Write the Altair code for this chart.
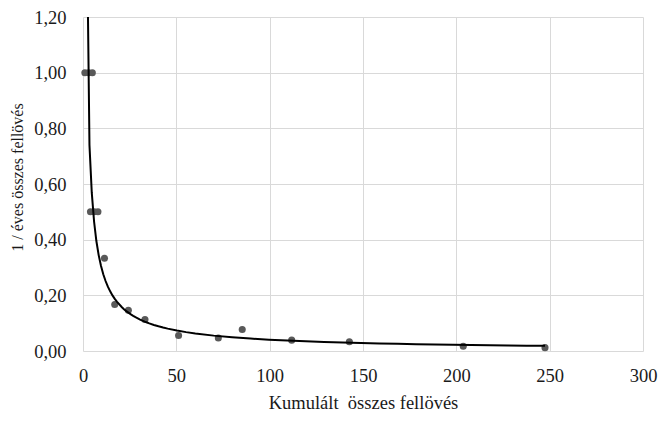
import altair as alt
import pandas as pd

kumulalt = [1, 3, 5, 4, 6, 8, 11.5, 17, 24.3, 33.2, 51.2, 72.5, 85.3, 111.8, 142.7, 203.7, 247.5]
reciprok = [1.0, 1.0, 1.0, 0.5, 0.5, 0.5, 0.333, 0.167, 0.146, 0.113, 0.056, 0.047, 0.077, 0.039, 0.033, 0.017, 0.012]

x_ticks = [0, 50, 100, 150, 200, 250, 300]
y_ticks = [0.0, 0.2, 0.4, 0.6, 0.8, 1.0, 1.2]

df = pd.DataFrame({"x": kumulalt, "y": reciprok})

FONT = "Liberation Serif"
TXT = "#1a1a1a"

x_enc = alt.X(
    "x:Q",
    scale=alt.Scale(domain=[0, 300], nice=False, zero=False),
    axis=alt.Axis(
        values=x_ticks,
        title="Kumulált\u00a0 összes fellövés",
        labelFont=FONT, labelFontSize=18.5, labelColor=TXT,
        labelBaseline="alphabetic", labelPadding=30, labelFlush=False,
        titleFont=FONT, titleFontSize=18.5, titleFontWeight="normal", titleColor=TXT,
        titleBaseline="alphabetic", titleY=57,
        grid=True, gridColor="#d9d9d9", gridWidth=1,
        domain=False, ticks=False, tickSize=0,
    ),
)

y_enc = alt.Y(
    "y:Q",
    scale=alt.Scale(domain=[0, 1.2], nice=False, zero=False),
    axis=alt.Axis(
        values=y_ticks,
        title="1 / éves összes fellövés",
        labelExpr="replace(format(datum.value, '.2f'), '.', ',')",
        labelFont=FONT, labelFontSize=18.5, labelColor=TXT,
        labelPadding=17, labelFlush=False,
        titleFont=FONT, titleFontSize=16, titleFontWeight="normal", titleColor=TXT,
        titleBaseline="alphabetic", titleX=-61, titleY=160,
        grid=True, gridColor="#d9d9d9", gridWidth=1,
        domain=False, ticks=False, tickSize=0,
    ),
)

points = alt.Chart(df).mark_point(
    filled=True, size=50, color="#595959", opacity=1
).encode(x=x_enc, y=y_enc)

trend = alt.Chart(df).transform_regression(
    "x", "y", method="pow", extent=[1, 247.5]
).mark_line(color="black", strokeWidth=2, clip=True).encode(x=x_enc, y=y_enc)

chart = alt.layer(points, trend).properties(
    width=560,
    height=334,
    autosize=alt.AutoSizeParams(type="none"),
    padding={"left": 83, "top": 17, "right": 27, "bottom": 75},
    background="white",
).configure_view(stroke=None)

chart.save("out.html", embed_options={"renderer": "svg", "actions": False})
